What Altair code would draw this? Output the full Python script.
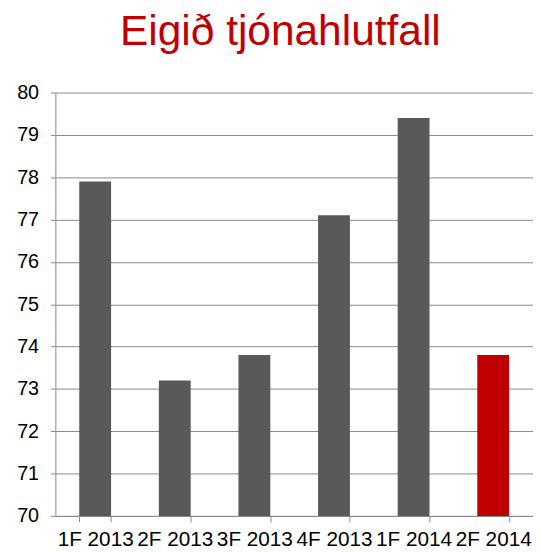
import altair as alt
import pandas as pd

categories = ["1F 2013", "2F 2013", "3F 2013", "4F 2013", "1F 2014", "2F 2014"]
values = [77.9, 73.2, 73.8, 77.1, 79.4, 73.8]
colors = ["#595959", "#595959", "#595959", "#595959", "#595959", "#C00000"]
y_ticks = list(range(70, 81))

df = pd.DataFrame({"cat": categories, "val": values, "color": colors})

FONT = "Liberation Sans"

chart = alt.Chart(df).mark_bar().encode(
    x=alt.X("cat:N", sort=categories, title=None,
            scale=alt.Scale(paddingInner=0.6, paddingOuter=0.3),
            axis=alt.Axis(labelAngle=0, labelFontSize=21, labelColor="black",
                          labelFont=FONT, labelPadding=7,
                          tickBand="extent", tickSize=6, tickColor="#888888",
                          domainColor="#888888", grid=False)),
    y=alt.Y("val:Q", title=None,
            scale=alt.Scale(domain=[70, 80], zero=False, nice=False),
            axis=alt.Axis(values=y_ticks, labelFontSize=20, labelColor="black",
                          labelFont=FONT, labelPadding=12, tickSize=5,
                          tickColor="#888888", domainColor="#888888",
                          gridColor="#888888", gridWidth=1)),
    y2=alt.Y2(datum=70),
    color=alt.Color("color:N", scale=None),
).properties(
    width=484,
    height=429,
    title=alt.TitleParams("Eigið tjónahlutfall", fontSize=43, font=FONT,
                          color="#C00000", fontWeight="normal", offset=29,
                          anchor="middle", dx=-14),
    autosize=alt.AutoSizeParams(type="none"),
    padding={"left": 48, "top": 82, "right": 0, "bottom": 40},
).configure_view(stroke=None)

chart.save("out.html", embed_options={"renderer": "svg", "actions": False})
